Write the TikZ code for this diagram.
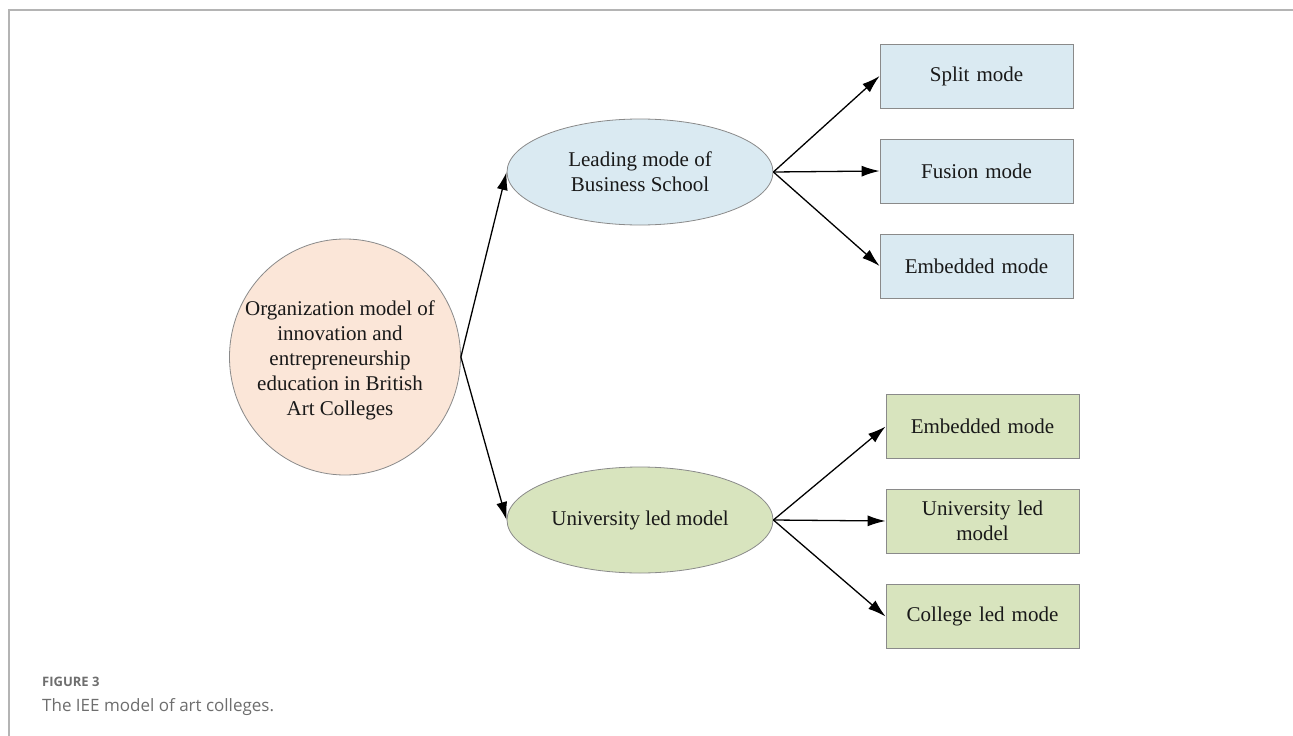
\documentclass[tikz,border=0pt]{standalone}
\usepackage{fontspec}
\setmainfont{Liberation Serif}
\newfontfamily\capfont{Open Sans}
\usetikzlibrary{arrows.meta,shapes.geometric}
\definecolor{blueF}{HTML}{DAEAF2}
\definecolor{greenF}{HTML}{D8E4BE}
\definecolor{peachF}{HTML}{FBE6D8}
\definecolor{edgeC}{HTML}{8A8A8A}
\definecolor{frameC}{HTML}{B4B4B4}
\definecolor{capC}{HTML}{6E6E6E}
\tikzset{
  every node/.style={font=\fontsize{21}{25}\selectfont, text=black!90},
  boxstyle/.style={draw=edgeC, line width=0.8pt, minimum width=193pt, minimum height=64pt, inner sep=2pt, align=center, text width=186pt},
  ellstyle/.style={draw=edgeC, line width=0.8pt, ellipse, minimum width=266pt, minimum height=106pt, inner sep=0pt, align=center},
  conn/.style={-{Latex[length=18pt,width=11pt]}, line width=1.3pt, black},
}
\begin{document}
\begin{tikzpicture}[x=1pt,y=-1pt]
\useasboundingbox (0,0) rectangle (1293,736);
\fill[white] (0,0) rectangle (1293,736);
\draw[frameC, line width=2pt] (9,736) -- (9,10) -- (1293,10);
\node[ellipse, draw=edgeC, line width=0.8pt, fill=peachF, minimum width=231pt, minimum height=236pt, inner sep=0pt] (root) at (345,357) {};
\node[align=center, inner sep=0pt] (roottext) at (340,360) {Organization model of\\innovation and\\entrepreneurship\\education in British\\Art Colleges};
\node[ellstyle, fill=blueF] (lead) at (640,172) {Leading mode of\\Business School};
\node[ellstyle, fill=greenF] (univ) at (640,520) {University led model};
\node[boxstyle, fill=blueF] (b1) at (976.5,76) {Split mode};
\node[boxstyle, fill=blueF] (b2) at (976.5,171) {Fusion mode};
\node[boxstyle, fill=blueF] (b3) at (976.5,266) {Embedded mode};
\node[boxstyle, fill=greenF] (g1) at (982.5,426.5) {Embedded mode};
\node[boxstyle, fill=greenF] (g2) at (982.5,521) {University led\\model};
\node[boxstyle, fill=greenF] (g3) at (982.5,616.5) {College led mode};
\coordinate (rootE) at (root.east);
\draw[conn] (rootE) -- (lead.west);
\draw[conn] (rootE) -- (univ.west);
\draw[conn] (lead.east) -- (b1.west);
\draw[conn] (lead.east) -- (b2.west);
\draw[conn] (lead.east) -- (b3.west);
\draw[conn] (univ.east) -- (g1.west);
\draw[conn] (univ.east) -- (g2.west);
\draw[conn] (univ.east) -- (g3.west);
\node[anchor=base west, inner sep=0pt, font=\capfont\bfseries\fontsize{13}{15}\selectfont, text=capC] (cap1) at (42,686) {FIGURE 3};
\node[anchor=base west, inner sep=0pt, font=\capfont\fontsize{17}{20}\selectfont, text=capC] (cap2) at (42,711) {The IEE model of art colleges.};
\end{tikzpicture}
\end{document}
